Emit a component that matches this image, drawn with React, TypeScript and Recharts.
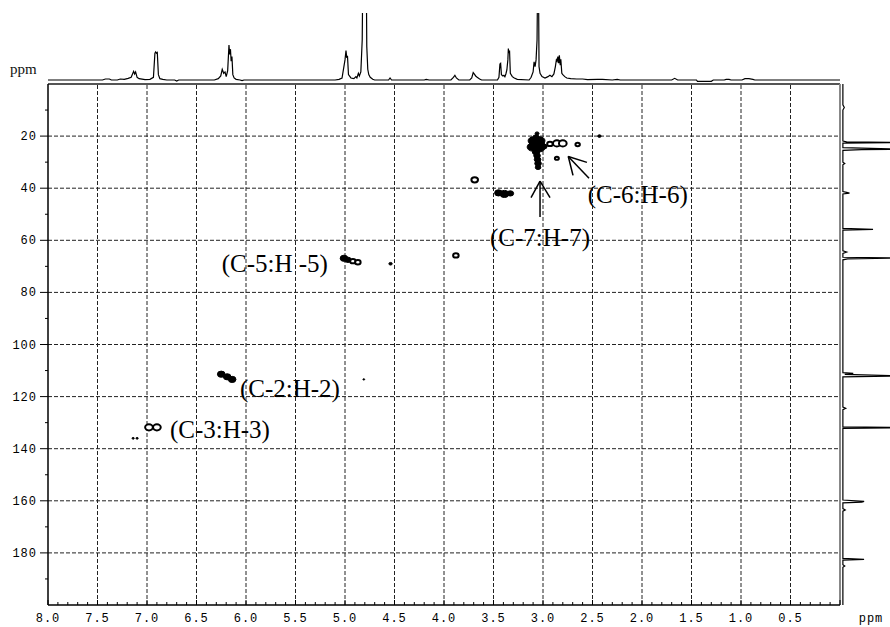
import { ScatterChart, Scatter, XAxis, YAxis, ReferenceLine } from 'recharts';

// 1H projection along the top: [ppm, relative intensity]
const protonTrace: [number, number][] = [
  [8.0, 0], [7.45, 0], [7.42, 1.5], [7.38, 1.5], [7.36, 0], [7.3, 0], [7.27, 1.5], [7.23, 1],
  [7.19, 2.5], [7.16, 4], [7.135, 13], [7.125, 9], [7.115, 12], [7.1, 4], [7.08, 2], [7.02, 0.5],
  [6.97, 1], [6.935, 4], [6.92, 40], [6.912, 42], [6.904, 40], [6.896, 41], [6.885, 8], [6.87, 2],
  [6.84, 1], [6.8, 0], [6.72, 0], [6.7, -1.5], [6.68, 0], [6.32, 0], [6.28, 2], [6.255, 6],
  [6.24, 16], [6.225, 10], [6.212, 12], [6.2, 5], [6.185, 14], [6.172, 52], [6.165, 38], [6.157, 46],
  [6.15, 28], [6.142, 35], [6.133, 8], [6.12, 3], [6.1, 1], [6.06, 0], [6.04, -1], [6.02, 0],
  [5.1, 0], [5.06, 1], [5.03, 3], [5.0, 30], [4.99, 44], [4.982, 33], [4.975, 36], [4.965, 8],
  [4.94, 3], [4.91, 2], [4.89, 5], [4.88, 3], [4.865, 10], [4.855, 6], [4.84, 12], [4.826, 60],
  [4.82, 160], [4.785, 160], [4.78, 50], [4.77, 16], [4.76, 8], [4.745, 4], [4.72, 1], [4.7, 0],
  [4.56, 0], [4.545, 3], [4.53, 0], [4.2, 0], [4.18, 1], [4.15, 0], [3.93, 0], [3.905, 4],
  [3.89, 7], [3.875, 3], [3.85, 0], [3.74, 0], [3.72, 3], [3.705, 11], [3.695, 9], [3.68, 6],
  [3.665, 4], [3.64, 1.5], [3.62, 0], [3.46, 0], [3.445, 4], [3.435, 24], [3.428, 25], [3.42, 8],
  [3.405, 6], [3.395, 7], [3.385, 5], [3.375, 9], [3.365, 15], [3.355, 30], [3.35, 47], [3.345, 40],
  [3.338, 44], [3.33, 10], [3.31, 5], [3.29, 3], [3.26, 1], [3.14, 0], [3.12, 4], [3.1, 12],
  [3.09, 27], [3.08, 20], [3.07, 30], [3.06, 60], [3.054, 160], [3.046, 160], [3.04, 20], [3.03, 10],
  [3.01, 5], [2.98, 3], [2.95, 5], [2.93, 7], [2.91, 5], [2.89, 9], [2.875, 20], [2.865, 30],
  [2.858, 28], [2.85, 35], [2.842, 25], [2.835, 37], [2.826, 22], [2.82, 31], [2.81, 10], [2.8, 8],
  [2.78, 5], [2.76, 3], [2.72, 2], [2.66, 1.5], [2.6, 1.5], [2.55, 0.5], [2.45, 1], [2.4, 1],
  [2.3, 0], [2.25, 1], [2.22, 0], [1.7, 0], [1.67, 2.5], [1.64, 0], [1.45, 0], [1.44, -2],
  [1.3, -2], [1.28, 0], [1.17, 0], [1.15, 1], [1.12, 1], [1.1, 0], [0.99, 0], [0.96, 2],
  [0.92, 2], [0.88, 1], [0.86, 0], [0.0, 0],
];

// 13C projection down the right side: [ppm, relative intensity]
const carbonTrace: [number, number][] = [
  [0, 0], [8, 0], [9, 3], [10, 0], [21.9, 0], [22.2, 8], [22.5, 130], [22.7, 0],
  [24.4, 0], [24.7, 60], [25.0, 130], [25.2, 40], [25.5, 0], [30, 0], [30.5, 4], [31, 0],
  [41.3, 0], [41.6, 8], [41.9, 14], [42.2, 0], [55.4, 0], [55.8, 64], [56.1, 0], [64, 0],
  [64.5, 8], [65, 0], [66.5, 0], [66.8, 130], [67.1, 10], [67.5, 0], [110.8, 0], [111.1, 22],
  [111.5, 4], [112.1, 130], [112.4, 0], [124, 0], [124.5, 6], [125, 0], [131.6, 0], [131.9, 130],
  [132.2, 0], [159.7, 0], [160.2, 45], [160.5, 40], [160.8, 0], [163, 0], [163.5, 5], [164, 0],
  [182.1, 0], [182.5, 45], [182.8, 0], [184.5, 0], [185, 4], [185.5, 0], [200, 0],
];

// HSQC cross peaks: [1H ppm, 13C ppm, contour level]
const solidPeaks: [number, number, number][] = [
  [3.06, 19.0, 1.8], [3.07, 20.5, 3], [3.1, 21.8, 4.5], [3.03, 21.8, 4.5], [3.08, 23.0, 5],
  [3.04, 23.0, 5], [3.11, 24.2, 4.5], [3.03, 24.5, 4.5], [2.99, 24.0, 2.8], [3.07, 26.0, 3.5],
  [3.06, 27.5, 3], [3.055, 29.0, 3], [3.05, 30.5, 3], [3.05, 32.0, 2.5],
  [3.45, 41.8, 3.5], [3.39, 42.2, 4], [3.33, 42.0, 3],
  [5.01, 66.9, 3.5], [4.97, 67.5, 3], [4.54, 69.0, 1.5],
  [6.25, 111.4, 3.5], [6.19, 112.4, 3.5], [6.14, 113.4, 3.5],
  [2.43, 20.0, 1.5], [4.81, 113.4, 0.8], [7.14, 136.0, 1], [7.1, 136.0, 1],
];

const openPeaks: [number, number, number][] = [
  [2.93, 23.0, 2.5], [2.86, 22.8, 3.5], [2.8, 22.8, 3.5], [2.65, 23.2, 2], [2.86, 28.5, 1.8],
  [3.69, 36.8, 3], [4.92, 68.0, 2.5], [4.87, 68.4, 2.5], [3.88, 65.8, 2.5],
  [6.98, 131.8, 3.5], [6.9, 131.8, 3.5],
];

// assignment labels, anchored at text start / baseline
const assignments = [
  { h: 2.548, c: 45.8, text: '(C-6:H-6)' },
  { h: 3.535, c: 62.0, text: '(C-7:H-7)' },
  { h: 6.246, c: 72.0, text: '(C-5:H -5)' },
  { h: 6.061, c: 120.3, text: '(C-2:H-2)' },
  { h: 6.768, c: 136.0, text: '(C-3:H-3)' },
];

// arrow strokes: [[h1, c1], [h2, c2]]
const arrowStrokes: [[number, number], [number, number]][] = [
  [[3.03, 51.1], [3.03, 37.3]],
  [[3.03, 37.3], [3.121, 43.6]],
  [[3.03, 37.3], [2.929, 43.6]],
  [[2.535, 36.2], [2.745, 27.8]],
  [[2.745, 27.8], [2.556, 30.1]],
  [[2.745, 27.8], [2.697, 35.1]],
];

const hMajor = [8.0, 7.5, 7.0, 6.5, 6.0, 5.5, 5.0, 4.5, 4.0, 3.5, 3.0, 2.5, 2.0, 1.5, 1.0, 0.5];
const cMajor = [20, 40, 60, 80, 100, 120, 140, 160, 180];
const cMinor = [10, 30, 50, 70, 90, 110, 130, 150, 170, 190];

const hTicks = Array.from({ length: 81 }, (_, i) => Math.round((8 - i * 0.1) * 10) / 10);
const cTicks = [...cMinor, ...cMajor].sort((a, b) => a - b);

const protonData = protonTrace.map(([h, i]) => ({ h, i }));
const carbonData = carbonTrace.map(([c, i]) => ({ c, i }));
const solidData = solidPeaks.map(([h, c, level]) => ({ h, c, level }));
const openData = openPeaks.map(([h, c, level]) => ({ h, c, level }));

const tickFont = { fontFamily: '"Liberation Mono", monospace', fontSize: 12, fill: '#000', letterSpacing: 1 };

const isMajorH = (v: number) => Math.abs(v * 2 - Math.round(v * 2)) < 1e-6;

const HTick = (p: any) => {
  const { x, y, payload } = p;
  const v = payload.value as number;
  const major = isMajorH(v);
  return (
    <g>
      <line x1={x} x2={x} y1={y} y2={y - (major ? 5 : 3)} stroke="#000" strokeWidth={1} />
      {major && v > 0.01 && (
        <text x={x} y={y + 17} textAnchor="middle" {...tickFont}>{v.toFixed(1)}</text>
      )}
      {v < 0.01 && (
        <text x={x + 31} y={y + 17} textAnchor="middle" {...tickFont}>ppm</text>
      )}
    </g>
  );
};

const CTick = (p: any) => {
  const { x, y, payload } = p;
  const v = payload.value as number;
  const major = v % 20 === 0;
  return (
    <g>
      <line x1={x} x2={x - (major ? 8 : 3)} y1={y} y2={y} stroke="#000" strokeWidth={1} />
      {major && (
        <text x={x - 11} y={y + 4} textAnchor="end" {...tickFont}>{v}</text>
      )}
    </g>
  );
};

const NoDot = () => <g />;

const SolidBlob = (p: any) => {
  const r = p.payload.level * 1.1;
  return <ellipse cx={p.cx} cy={p.cy} rx={r} ry={r * 0.8} fill="#000" stroke="#000" strokeWidth={1} />;
};

const OpenRing = (p: any) => {
  const r = p.payload.level * 1.1;
  return <ellipse cx={p.cx} cy={p.cy} rx={r} ry={r * 0.8} fill="#fff" stroke="#000" strokeWidth={2} />;
};

const AssignLabel = (p: any) => (
  <text x={p.cx} y={p.cy} fontFamily='"Liberation Serif", serif' fontSize={25} fill="#000">
    {p.payload.text}
  </text>
);

const gridStyle = { stroke: '#222', strokeDasharray: '4 2', strokeWidth: 1 };

export default function App() {
  return (
    <div style={{ position: 'relative', width: 890, height: 627, background: '#fff' }}>
      <style>{'body{margin:0}'}</style>

      {/* 2D HSQC map */}
      <div style={{ position: 'absolute', left: 0, top: 0 }}>
        <ScatterChart width={890} height={627} margin={{ top: 84, right: 50, bottom: 0, left: 0 }}>
          <XAxis
            type="number"
            dataKey="h"
            domain={[0, 8]}
            reversed
            allowDataOverflow
            ticks={hTicks}
            interval={0}
            height={22}
            tickSize={0}
            tickMargin={0}
            tickLine={false}
            tick={HTick}
            axisLine={{ stroke: '#000', strokeWidth: 1.5 }}
          />
          <YAxis
            type="number"
            dataKey="c"
            domain={[0, 200]}
            reversed
            allowDataOverflow
            ticks={cTicks}
            interval={0}
            width={48}
            tickSize={0}
            tickMargin={0}
            tickLine={false}
            tick={CTick}
            axisLine={{ stroke: '#000', strokeWidth: 1.5 }}
          />
          {hMajor.slice(1).map((v) => (
            <ReferenceLine key={'gx' + v} x={v} {...gridStyle} />
          ))}
          {cMajor.map((v) => (
            <ReferenceLine key={'gy' + v} y={v} {...gridStyle} />
          ))}
          <ReferenceLine y={0} stroke="#555" strokeWidth={2} />
          <ReferenceLine x={0} stroke="#888" strokeWidth={2} />
          {arrowStrokes.map(([a, b], i) => (
            <ReferenceLine
              key={'ar' + i}
              segment={[{ x: a[0], y: a[1] }, { x: b[0], y: b[1] }]}
              stroke="#000"
              strokeWidth={1.5}
              ifOverflow="visible"
            />
          ))}
          <Scatter data={solidData} shape={SolidBlob} isAnimationActive={false} />
          <Scatter data={openData} shape={OpenRing} isAnimationActive={false} />
          <Scatter data={assignments} shape={AssignLabel} isAnimationActive={false} />
        </ScatterChart>
      </div>

      {/* 1H projection */}
      <div style={{ position: 'absolute', left: 0, top: 0 }}>
        <ScatterChart width={890} height={84} margin={{ top: 13, right: 50, bottom: 2, left: 48 }}>
          <XAxis type="number" dataKey="h" domain={[0, 8]} reversed hide allowDataOverflow />
          <YAxis type="number" dataKey="i" domain={[-3, 100]} hide allowDataOverflow />
          <Scatter
            data={protonData}
            line={{ stroke: '#000', strokeWidth: 1.2 }}
            shape={NoDot}
            isAnimationActive={false}
          />
        </ScatterChart>
      </div>

      {/* 13C projection */}
      <div style={{ position: 'absolute', left: 0, top: 0 }}>
        <ScatterChart width={890} height={627} margin={{ top: 84, right: 0, bottom: 22, left: 841 }}>
          <XAxis type="number" dataKey="i" domain={[-4, 100]} hide allowDataOverflow />
          <YAxis type="number" dataKey="c" domain={[0, 200]} reversed hide allowDataOverflow />
          <Scatter
            data={carbonData}
            line={{ stroke: '#000', strokeWidth: 1.2 }}
            shape={NoDot}
            isAnimationActive={false}
          />
        </ScatterChart>
      </div>

      <div
        style={{
          position: 'absolute',
          left: 10,
          top: 61,
          fontFamily: '"Liberation Serif", serif',
          fontSize: 15,
          lineHeight: '17px',
          color: '#111',
        }}
      >
        ppm
      </div>
    </div>
  );
}
